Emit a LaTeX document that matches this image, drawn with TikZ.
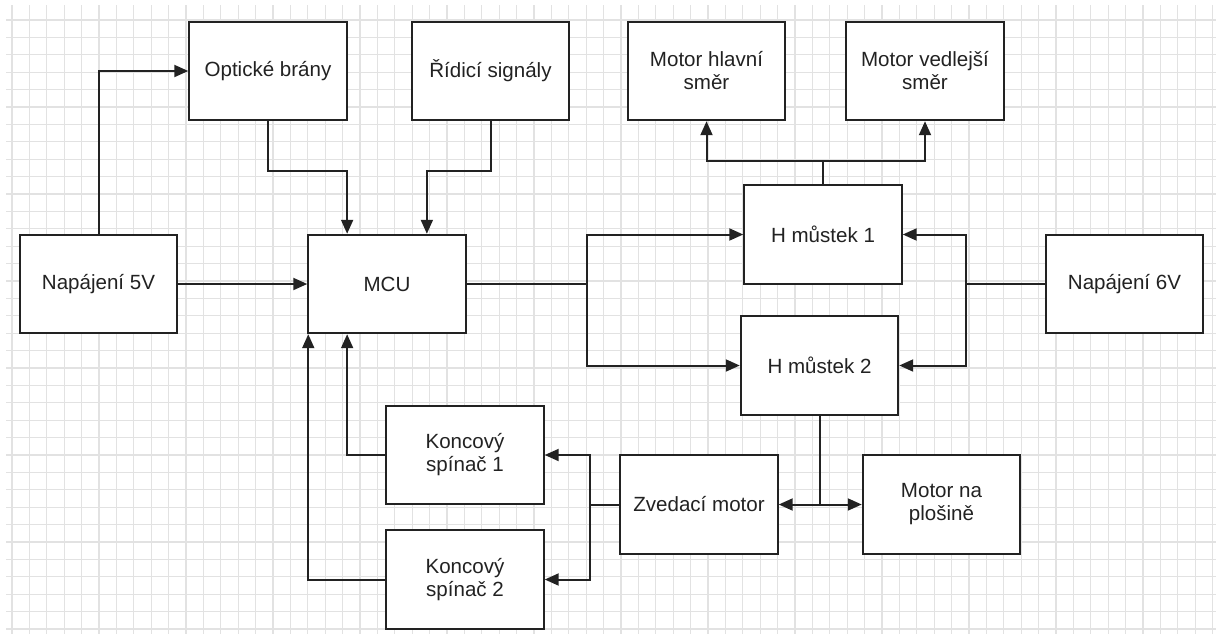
\documentclass[tikz,border=0pt]{standalone}
\usepackage{fontspec}
\setmainfont{Liberation Sans}
\usepackage{tikz}
\usetikzlibrary{arrows.meta,calc}
\definecolor{gridgray}{HTML}{E2E2E2}
\definecolor{linedark}{HTML}{222222}
\tikzset{
  blk/.style={draw=linedark, line width=.04cm, fill=white, align=center, inner sep=2pt,
    minimum width=3.15cm, minimum height=1.97cm, text=linedark,
    font=\fontsize{11.7}{13.1}\selectfont},
  ar/.style={-{Triangle[length=2.8mm, width=2.4mm]}, line width=.04cm, draw=linedark},
  ln/.style={line width=.04cm, draw=linedark},
  gridln/.style={draw=gridgray, line width=.025cm},
}

\begin{document}
\begin{tikzpicture}[x=0.02cm, y=-0.02cm]
    \useasboundingbox (0,0) rectangle (1221,636);
    % mřížka
    \foreach \i in {0,...,69}{
      \draw[gridln] ({12+17.4*\i},5) -- ({12+17.4*\i},634);
    }
    \foreach \j in {0,...,35}{
      \draw[gridln] (6,{20+17.4*\j}) -- (1216,{20+17.4*\j});
    }

    % bloky
    \node[blk] (nap5) at (98.5,284) {Napájení 5V};
    \node[blk] (opt) at (268,71) {Optické brány};
    \node[blk] (ridi) at (490.5,71) {Řídicí signály};
    \node[blk] (mhl) at (706.5,71) {Motor hlavní\\směr};
    \node[blk] (mved) at (925,71) {Motor vedlejší\\směr};
    \node[blk] (mcu) at (387,284) {MCU};
    \node[blk] (hm1) at (823,234.5) {H můstek 1};
    \node[blk] (hm2) at (819.5,365.5) {H můstek 2};
    \node[blk] (nap6) at (1124.5,284) {Napájení 6V};
    \node[blk] (zved) at (699,504.5) {Zvedací motor};
    \node[blk] (mplo) at (941.5,504.5) {Motor na\\plošině};
    \node[blk] (ks1) at (465,455) {Koncový\\spínač 1};
    \node[blk] (ks2) at (465,579.5) {Koncový\\spínač 2};

    \coordinate (mcuA) at ($(mcu.north west)!.25!(mcu.north east)$);
    \coordinate (mcuB) at ($(mcu.north west)!.75!(mcu.north east)$);
    \coordinate (mcuC) at ($(mcu.south west)!.25!(mcu.south east)$);

    % spoje
    \draw[ar] (nap5.north) |- (opt.west);
    \draw[ar] (nap5) -- (mcu);
    \draw[ar] (opt.south) -- ++(0,50) -| (mcuA);
    \draw[ar] (ridi.south) -- ++(0,50) -| (mcuB);

    \draw[ln] (mcu.east) -- ++(120,0) coordinate (spl);
    \draw[ar] (spl) |- (hm1.west);
    \draw[ar] (spl) |- (hm2.west);

    \draw[ln] (nap6.west) -- ++(-79,0) coordinate (spr);
    \draw[ar] (spr) |- (hm1.east);
    \draw[ar] (spr) |- (hm2.east);

    \draw[ln] (hm1.north) -- ++(0,-23) coordinate (spt);
    \draw[ar] (spt) -| (mhl.south);
    \draw[ar] (spt) -| (mved.south);

    \draw[ar] (hm2.south) |- (zved.east);
    \draw[ar] (hm2.south) |- (mplo.west);

    \draw[ln] (zved.west) -- ++(-29,0) coordinate (spz);
    \draw[ar] (spz) |- (ks1.east);
    \draw[ar] (spz) |- (ks2.east);

    \draw[ar] (ks1.west) -| (mcuC);
    \draw[ar] (ks2.west) -| ([xshift=0.02cm]mcu.south west);
\end{tikzpicture}
\end{document}
